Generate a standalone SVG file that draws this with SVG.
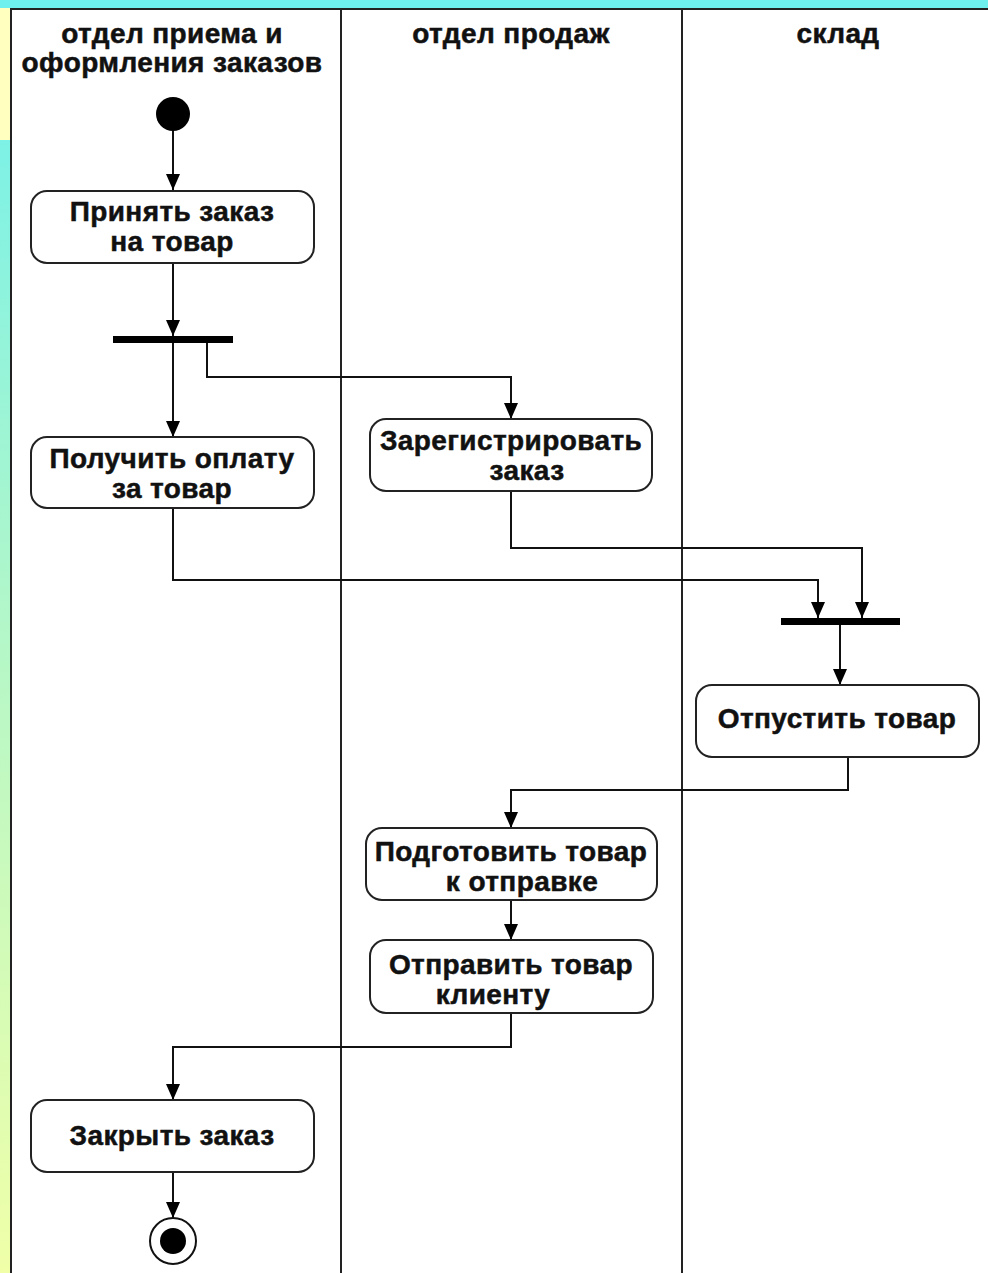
<svg xmlns="http://www.w3.org/2000/svg" width="988" height="1273" viewBox="0 0 988 1273">
<defs>
<linearGradient id="strip" x1="0" y1="0" x2="0" y2="1">
<stop offset="0" stop-color="#6ef0ee"/>
<stop offset="0.5" stop-color="#b4f7c8"/>
<stop offset="1" stop-color="#f0ffa8"/>
</linearGradient>
<marker id="arr" viewBox="0 0 16 14" refX="16" refY="7" markerWidth="16" markerHeight="14" markerUnits="userSpaceOnUse" orient="auto">
<path d="M0,0 L16,7 L0,14 Z" fill="#000"/>
</marker>
<style>
.lbl{font-family:"Liberation Sans",Arial,sans-serif;font-weight:bold;font-size:28px;letter-spacing:0.4px;fill:#111;stroke:#111;stroke-width:0.5px;text-anchor:middle}
.box{fill:#fff;stroke:#222;stroke-width:2}
.bar{fill:#000}
.lane{stroke:#222;stroke-width:2;fill:none}
.conn path{fill:none;stroke:#111;stroke-width:2}
</style>
</defs>
<rect x="0" y="0" width="988" height="1273" fill="url(#strip)"/>
<rect x="0" y="0" width="988" height="8" fill="#6ef0ee"/>
<rect x="0" y="8" width="10" height="132" fill="#ffffc0"/>
<rect x="10" y="9" width="978" height="1264" fill="#fff"/>
<path class="lane" d="M11,1273 V9 H988"/>
<line class="lane" x1="341" y1="9" x2="341" y2="1273"/>
<line class="lane" x1="682" y1="9" x2="682" y2="1273"/>

<g id="lane-headers">
<text class="lbl" x="172" y="43">отдел приема и</text>
<text class="lbl" x="172" y="72">оформления заказов</text>
<text class="lbl" x="511" y="43">отдел продаж</text>
<text class="lbl" x="838" y="43">склад</text>
</g>

<g class="conn" id="connectors">
<path d="M173,130 V190" marker-end="url(#arr)"/>
<path d="M173,263 V336" marker-end="url(#arr)"/>
<path d="M173,343 V437" marker-end="url(#arr)"/>
<path d="M207,343 V377 H511 V419" marker-end="url(#arr)"/>
<path d="M173,508 V580 H818 V618" marker-end="url(#arr)"/>
<path d="M511,491 V548 H862 V618" marker-end="url(#arr)"/>
<path d="M840,625 V685" marker-end="url(#arr)"/>
<path d="M848,757 V790 H511 V828" marker-end="url(#arr)"/>
<path d="M511,900 V940" marker-end="url(#arr)"/>
<path d="M511,1013 V1047 H173 V1100" marker-end="url(#arr)"/>
<path d="M173,1172 V1218" marker-end="url(#arr)"/>
</g>

<g id="start"><circle cx="173" cy="114" r="17" fill="#000"/></g>

<g id="n1">
<rect class="box" x="31" y="191" width="283" height="72" rx="16"/>
<text class="lbl" x="172" y="221">Принять заказ</text>
<text class="lbl" x="172" y="251">на товар</text>
</g>

<g id="fork"><rect class="bar" x="113" y="336" width="120" height="7"/></g>

<g id="n2">
<rect class="box" x="31" y="437" width="283" height="71" rx="16"/>
<text class="lbl" x="172" y="468">Получить оплату</text>
<text class="lbl" x="172" y="498">за товар</text>
</g>

<g id="n3">
<rect class="box" x="370" y="419" width="282" height="72" rx="16"/>
<text class="lbl" x="511" y="450">Зарегистрировать</text>
<text class="lbl" x="527" y="480">заказ</text>
</g>

<g id="join"><rect class="bar" x="781" y="618" width="119" height="7"/></g>

<g id="n4">
<rect class="box" x="696" y="685" width="283" height="72" rx="16"/>
<text class="lbl" x="837" y="728">Отпустить товар</text>
</g>

<g id="n5">
<rect class="box" x="366" y="828" width="291" height="72" rx="16"/>
<text class="lbl" x="511" y="861">Подготовить товар</text>
<text class="lbl" x="522" y="891">к отправке</text>
</g>

<g id="n6">
<rect class="box" x="370" y="940" width="283" height="73" rx="16"/>
<text class="lbl" x="511" y="974">Отправить товар</text>
<text class="lbl" x="493" y="1004">клиенту</text>
</g>

<g id="n7">
<rect class="box" x="31" y="1100" width="283" height="72" rx="16"/>
<text class="lbl" x="172" y="1145">Закрыть заказ</text>
</g>

<g id="end">
<circle cx="173" cy="1241" r="23" fill="#fff" stroke="#111" stroke-width="2"/>
<circle cx="173" cy="1241" r="13" fill="#000"/>
</g>
</svg>
